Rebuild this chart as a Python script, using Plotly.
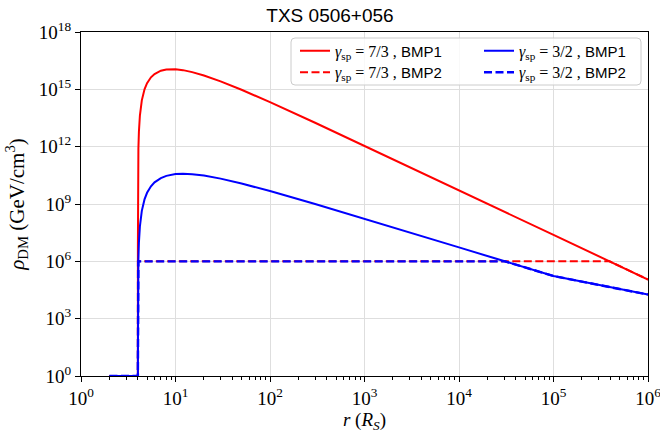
import plotly.graph_objects as go

# ---- data ----
r_solid = [2, 4, 4.001, 4.01, 4.05, 4.1, 4.2, 4.4, 4.7, 5, 5.5, 6, 7, 8, 9, 10,
           12, 15, 20, 30, 50, 100, 300, 1e3, 1e4, 1e5, 1e6]
rho_red_bmp1 = [1, 1, 6.90e6, 6.81e9, 8.07e11, 6.05e12, 4.26e13, 2.66e14, 1.00e15,
                2.10e15, 4.27e15, 6.35e15, 9.42e15, 1.10e16, 1.14e16, 1.12e16,
                1.01e16, 7.98e15, 5.28e15, 2.61e15, 9.48e14, 2.14e14, 1.79e13,
                1.11e12, 5.21e9, 2.42e7, 1.12e5]
rho_blue_bmp1 = [1, 1, 10.5, 1.04e4, 1.24e6, 9.40e6, 6.73e7, 4.38e8, 1.74e9,
                 3.85e9, 8.45e9, 1.36e10, 2.28e10, 2.96e10, 3.41e10, 3.67e10,
                 3.83e10, 3.65e10, 3.08e10, 2.13e10, 1.18e10, 4.75e9, 9.93e8,
                 1.68e8, 5.36e6, 1.70e5, 1.82e4]

r_red_bmp2 = [2, 4, 4.0005, 3.92e5, 1e6]
rho_red_bmp2 = [1, 1, 1e6, 1e6, 1.12e5]
r_blue_bmp2 = [2, 4, 4.047, 3.07e4, 1e5, 1e6]
rho_blue_bmp2 = [1, 1, 1e6, 1e6, 1.70e5, 1.82e4]

x_tickvals = [1, 10, 100, 1e3, 1e4, 1e5, 1e6]
x_ticktext = ["10<sup>%d</sup>" % k for k in range(7)]
y_tickvals = [1, 1e3, 1e6, 1e9, 1e12, 1e15, 1e18]
y_ticktext = ["10<sup>%d</sup>" % k for k in (0, 3, 6, 9, 12, 15, 18)]

SERIF = "Liberation Serif"
SANS = "Liberation Sans"


def lab(g, tag):
    return ('<span style="font-family:%s;font-size:16px"><i>γ</i><sub>sp</sub> = %s ,</span> %s'
            % (SERIF, g, tag))


L, R, T, B = 81, 12, 32, 63
PW, PH = 660 - L - R, 439 - T - B


def px(xp):
    return (xp - L) / PW


def py(yp):
    return (439 - B - yp) / PH


fig = go.Figure()
fig.add_trace(go.Scatter(x=r_solid, y=rho_red_bmp1, mode="lines",
                         line=dict(color="#ff0000", width=2),
                         name=lab("7/3", "BMP1"), legend="legend"))
fig.add_trace(go.Scatter(x=r_red_bmp2, y=rho_red_bmp2, mode="lines",
                         line=dict(color="#ff0000", width=2, dash="8px,3.5px"),
                         name=lab("7/3", "BMP2"), legend="legend2"))
fig.add_trace(go.Scatter(x=r_solid, y=rho_blue_bmp1, mode="lines",
                         line=dict(color="#0000ff", width=2),
                         name=lab("3/2", "BMP1"), legend="legend3"))
fig.add_trace(go.Scatter(x=r_blue_bmp2, y=rho_blue_bmp2, mode="lines",
                         line=dict(color="#0000ff", width=2.4, dash="8px,3.5px"),
                         name=lab("3/2", "BMP2"), legend="legend4"))

# rounded legend frame
x0, x1, y0, y1 = px(291), px(641), py(85), py(38)
rx, ry = 4 / PW, 4 / PH
path = (f"M{x0+rx},{y1} L{x1-rx},{y1} Q{x1},{y1} {x1},{y1-ry} "
        f"L{x1},{y0+ry} Q{x1},{y0} {x1-rx},{y0} L{x0+rx},{y0} "
        f"Q{x0},{y0} {x0},{y0+ry} L{x0},{y1-ry} Q{x0},{y1} {x0+rx},{y1} Z")
fig.add_shape(type="path", path=path, xref="paper", yref="paper",
              line=dict(color="#cccccc", width=1), fillcolor="rgba(255,255,255,0.8)",
              layer="above")

legfont = dict(family=SANS, size=15, color="black")


def leg(xp, yp):
    return dict(x=px(xp), y=py(yp), xanchor="left", yanchor="middle",
                bgcolor="rgba(0,0,0,0)", borderwidth=0, font=legfont,
                tracegroupgap=0)


fig.update_layout(
    width=660, height=439,
    margin=dict(l=L, r=R, t=T, b=B),
    paper_bgcolor="white", plot_bgcolor="white",
    title=dict(text="TXS 0506+056", x=px((L + 660 - R) / 2), xanchor="center",
               y=1 - 15 / 439, yanchor="middle",
               font=dict(family=SANS, size=19, color="black")),
    showlegend=True,
    legend=leg(295, 51),
    legend2=leg(295, 72.5),
    legend3=leg(479, 51),
    legend4=leg(479, 72.5),
    xaxis=dict(type="log", range=[0, 6], tickvals=x_tickvals, ticktext=x_ticktext,
               automargin=False, ticklabeloverflow="allow",
               showline=True, mirror=True, linecolor="black", linewidth=1.3,
               ticks="outside", ticklen=5, tickwidth=1, tickcolor="black",
               showgrid=True, gridcolor="#dedede", gridwidth=1, zeroline=False,
               minor=dict(ticks="outside", ticklen=3, tickwidth=0.8,
                          tickcolor="black", dtick="D1", showgrid=False),
               tickfont=dict(family=SERIF, size=19, color="black"),
               title=dict(text="<i>r</i> (<i>R</i><sub><i>S</i></sub>)",
                          font=dict(family=SERIF, size=19, color="black"),
                          standoff=4)),
    yaxis=dict(type="log", range=[0, 18], tickvals=y_tickvals, ticktext=y_ticktext,
               automargin=False, ticklabeloverflow="allow",
               showline=True, mirror=True, linecolor="black", linewidth=1.3,
               ticks="outside", ticklen=5, tickwidth=1, tickcolor="black",
               showgrid=True, gridcolor="#dedede", gridwidth=1, zeroline=False,
               tickfont=dict(family=SERIF, size=19, color="black"),
               title=dict(text="<i>ρ</i><sub>DM</sub> (GeV/cm<sup>3</sup>)",
                          font=dict(family=SERIF, size=21, color="black"),
                          standoff=8)),
)

fig.write_html("out.html")
